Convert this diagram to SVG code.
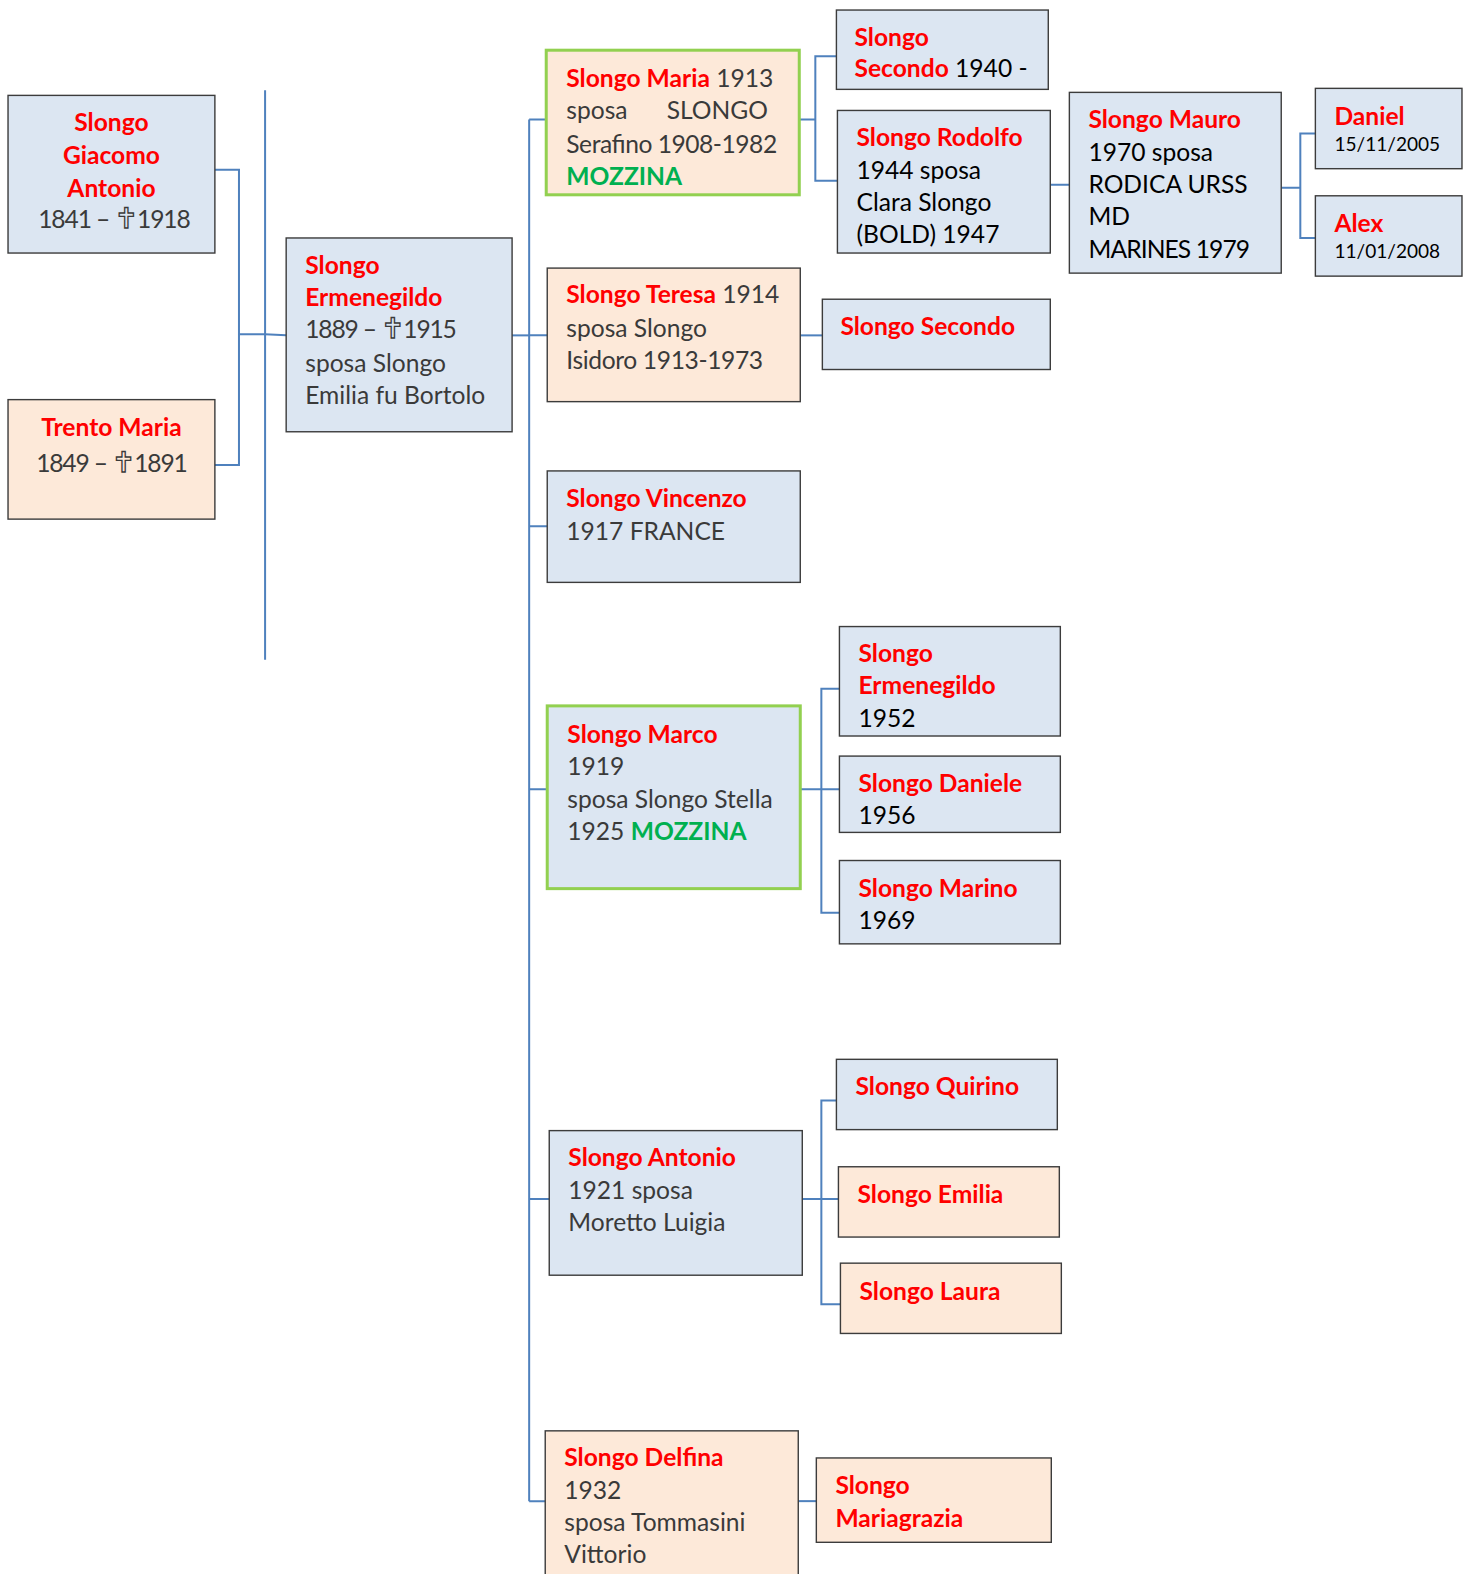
<svg xmlns="http://www.w3.org/2000/svg" width="1473" height="1574" viewBox="0 0 1473 1574">
<style>
.box{stroke:#3c3c3c;stroke-width:1.4}
.blue{fill:#dce6f2}
.peach{fill:#fde9d9}
.gr{stroke:#92d050;stroke-width:3}
text{font-family:Lato,"Noto Sans","DejaVu Sans",sans-serif;font-size:24.5px;fill:#3a3a3a}
.n{font-weight:bold;fill:#ff0000}
.k{fill:#000}
.g{font-weight:bold;fill:#00b050}
.s{font-size:19px}
.c{text-anchor:middle}
.cx{font-family:"DejaVu Sans",sans-serif;font-size:28px;fill:none;stroke:#3a3a3a;stroke-width:1.3}
.ln{fill:none;stroke:#4f81bd;stroke-width:2}
</style>
<rect width="1473" height="1574" fill="#fff"/>
<g transform="scale(1.0041)">
<g id="connectors" class="ln">
<path d="M214,169 H238 V463 H214"/>
<path d="M238,333 H264 L285,334"/>
<path d="M264,90 V657"/>
<path d="M510,334 H527"/>
<path d="M527,119 V1495"/>
<path d="M527,119 H544 M527,334 H545 M527,524 H545 M527,786 H545 M527,1194 H547 M527,1495 H543"/>
<path d="M796,119 H812 M833,56 H812 V180 H834"/>
<path d="M797,334 H819"/>
<path d="M1046,184 H1065"/>
<path d="M1276,187 H1295 M1310,133 H1295 V237 H1310"/>
<path d="M797,786 H836 M836,686 H818 V909 H836"/>
<path d="M799,1194 H835 M833,1096 H818 V1299 H837"/>
<path d="M795,1495 H813"/>
</g>
<g id="giacomo">
<rect class="box blue" x="8" y="95" width="206" height="157"/>
<text class="n c" x="111" y="130">Slongo</text>
<text class="n c" x="111" y="163">Giacomo</text>
<text class="n c" x="111" y="196">Antonio</text>
<text x="38" y="227" textLength="152" lengthAdjust="spacing">1841 – <tspan class="cx">✝</tspan>1918</text>
</g>
<g id="trento">
<rect class="box peach" x="8" y="398" width="206" height="119"/>
<text class="n c" x="111" y="434">Trento Maria</text>
<text x="36" y="470" textLength="151" lengthAdjust="spacing">1849 – <tspan class="cx">✝</tspan>1891</text>
</g>
<g id="ermenegildo">
<rect class="box blue" x="285" y="237" width="225" height="193"/>
<text class="n" x="304" y="273">Slongo</text>
<text class="n" x="304" y="305">Ermenegildo</text>
<text x="304" y="337" textLength="151" lengthAdjust="spacing">1889 – <tspan class="cx">✝</tspan>1915</text>
<text x="304" y="370">sposa Slongo</text>
<text x="304" y="402">Emilia fu Bortolo</text>
</g>
<g id="maria">
<rect class="box peach gr" x="544" y="50" width="252" height="144"/>
<text x="564" y="87"><tspan class="n">Slongo Maria</tspan> 1913</text>
<text x="564" y="119">sposa</text>
<text x="664" y="119">SLONGO</text>
<text x="564" y="152" textLength="210" lengthAdjust="spacing">Serafino 1908-1982</text>
<text class="g" x="564" y="184">MOZZINA</text>
</g>
<g id="teresa">
<rect class="box peach" x="545" y="267" width="252" height="133"/>
<text x="564" y="302"><tspan class="n">Slongo Teresa</tspan> 1914</text>
<text x="564" y="336">sposa Slongo</text>
<text x="564" y="367" textLength="196" lengthAdjust="spacing">Isidoro 1913-1973</text>
</g>
<g id="vincenzo">
<rect class="box blue" x="545" y="469" width="252" height="111"/>
<text class="n" x="564" y="505">Slongo Vincenzo</text>
<text x="564" y="538">1917 FRANCE</text>
</g>
<g id="marco">
<rect class="box blue gr" x="545" y="703" width="252" height="182"/>
<text class="n" x="565" y="740">Slongo Marco</text>
<text x="565" y="772">1919</text>
<text x="565" y="805">sposa Slongo Stella</text>
<text x="565" y="837">1925 <tspan class="g">MOZZINA</tspan></text>
</g>
<g id="antonio">
<rect class="box blue" x="547" y="1126" width="252" height="144"/>
<text class="n" x="566" y="1161">Slongo Antonio</text>
<text x="566" y="1194">1921 sposa</text>
<text x="566" y="1226">Moretto Luigia</text>
</g>
<g id="delfina">
<rect class="box peach" x="543" y="1425" width="252" height="170"/>
<text class="n" x="562" y="1460">Slongo Delfina</text>
<text x="562" y="1493">1932</text>
<text x="562" y="1525">sposa Tommasini</text>
<text x="562" y="1557">Vittorio</text>
</g>
<g id="secondo1940">
<rect class="box blue" x="833" y="10" width="211" height="79"/>
<text class="n" x="851" y="46">Slongo</text>
<text class="k" x="851" y="77"><tspan class="n">Secondo</tspan> 1940 -</text>
</g>
<g id="rodolfo">
<rect class="box blue" x="834" y="110" width="212" height="142"/>
<text class="n" x="853" y="145">Slongo Rodolfo</text>
<text class="k" x="853" y="178">1944 sposa</text>
<text class="k" x="853" y="210">Clara Slongo</text>
<text class="k" x="853" y="242">(BOLD) 1947</text>
</g>
<g id="secondo">
<rect class="box blue" x="819" y="298" width="227" height="70"/>
<text class="n" x="837" y="334">Slongo Secondo</text>
</g>
<g id="mauro">
<rect class="box blue" x="1065" y="92" width="211" height="180"/>
<text class="n" x="1084" y="127">Slongo Mauro</text>
<text class="k" x="1084" y="160">1970 sposa</text>
<text class="k" x="1084" y="192">RODICA URSS</text>
<text class="k" x="1084" y="224">MD</text>
<text class="k" x="1084" y="257" textLength="161" lengthAdjust="spacing">MARINES 1979</text>
</g>
<g id="daniel">
<rect class="box blue" x="1310" y="88" width="146" height="80"/>
<text class="n" x="1329" y="124">Daniel</text>
<text class="k s" x="1329" y="150">15/11/2005</text>
</g>
<g id="alex">
<rect class="box blue" x="1310" y="195" width="146" height="80"/>
<text class="n" x="1329" y="231">Alex</text>
<text class="k s" x="1329" y="257">11/01/2008</text>
</g>
<g id="ermenegildo1952">
<rect class="box blue" x="836" y="624" width="220" height="109"/>
<text class="n" x="855" y="659">Slongo</text>
<text class="n" x="855" y="691">Ermenegildo</text>
<text class="k" x="855" y="724">1952</text>
</g>
<g id="daniele">
<rect class="box blue" x="836" y="753" width="220" height="76"/>
<text class="n" x="855" y="789">Slongo Daniele</text>
<text class="k" x="855" y="821">1956</text>
</g>
<g id="marino">
<rect class="box blue" x="836" y="857" width="220" height="83"/>
<text class="n" x="855" y="893">Slongo Marino</text>
<text class="k" x="855" y="925">1969</text>
</g>
<g id="quirino">
<rect class="box blue" x="833" y="1055" width="220" height="70"/>
<text class="n" x="852" y="1091">Slongo Quirino</text>
</g>
<g id="emilia">
<rect class="box peach" x="835" y="1162" width="220" height="70"/>
<text class="n" x="854" y="1198">Slongo Emilia</text>
</g>
<g id="laura">
<rect class="box peach" x="837" y="1258" width="220" height="70"/>
<text class="n" x="856" y="1295">Slongo Laura</text>
</g>
<g id="mariagrazia">
<rect class="box peach" x="813" y="1452" width="234" height="84"/>
<text class="n" x="832" y="1488">Slongo</text>
<text class="n" x="832" y="1521">Mariagrazia</text>
</g>
</g>
</svg>
